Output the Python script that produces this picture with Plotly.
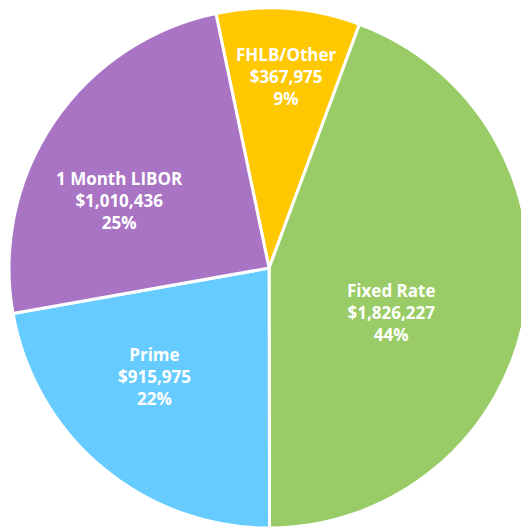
import plotly.graph_objects as go

labels = ["FHLB/Other", "Fixed Rate", "Prime", "1 Month LIBOR"]
values = [367975, 1826227, 915975, 1010436]
colors = ["#FFC800", "#99CC66", "#66CCFF", "#A974C4"]

# label anchor points (paper coords), placed like the Excel data labels
label_pos = [(0.527, 0.871), (0.724, 0.424), (0.276, 0.303), (0.210, 0.636)]

fig = go.Figure(go.Pie(
    labels=labels, values=values, sort=False, direction="clockwise",
    rotation=-11.8,
    marker=dict(colors=colors, line=dict(color="white", width=3)),
    textinfo="none",
    domain=dict(x=[0.0, 0.987], y=[0.015, 1.0]),
    hoverinfo="skip", showlegend=False,
))

total = sum(values)
for lab, val, (px, py) in zip(labels, values, label_pos):
    fig.add_annotation(
        x=px, y=py, xref="paper", yref="paper", showarrow=False,
        xanchor="center", yanchor="middle",
        text=f"<b>{lab}<br>${val:,}<br>{val / total:.0%}</b>",
        font=dict(family="Open Sans", size=17, color="white"),
        align="center",
    )

fig.update_layout(width=529, height=528, margin=dict(l=0, r=0, t=0, b=0),
                  paper_bgcolor="white")
fig.write_html("out.html")
